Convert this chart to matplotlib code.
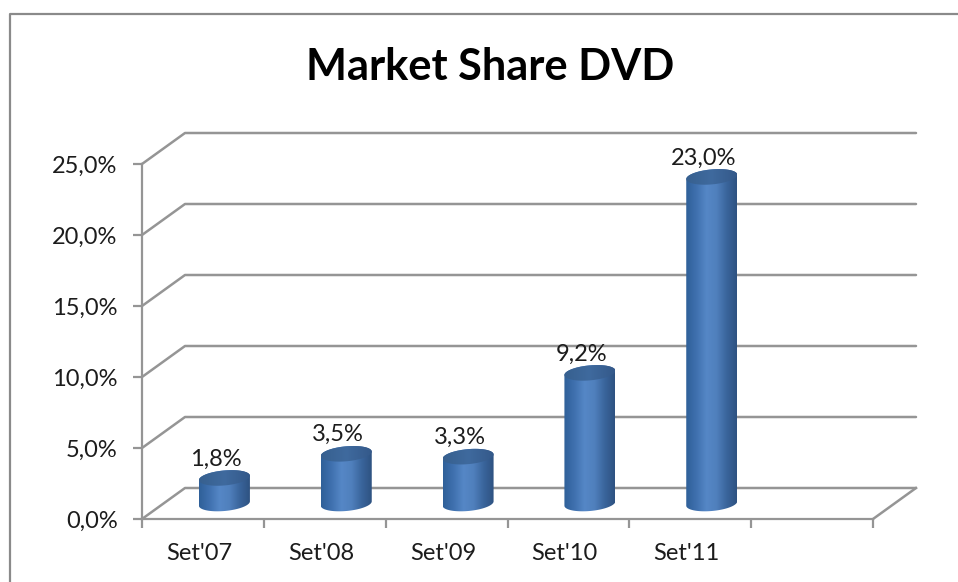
#!/usr/bin/env python3
import numpy as np
import matplotlib
matplotlib.use("Agg")
import matplotlib.pyplot as plt
from matplotlib.colors import LinearSegmentedColormap
from matplotlib.patches import Polygon
from matplotlib.transforms import IdentityTransform

plt.rcParams["font.family"] = ["Lato", "DejaVu Sans"]

W, H = 958, 582

categories = ["Set'07", "Set'08", "Set'09", "Set'10", "Set'11", ""]
values = [1.8, 3.5, 3.3, 9.2, 23.0]
y_ticks = [0, 5, 10, 15, 20, 25]

line_color = "#959595"
text_color = "#1c1c1c"
body_cmap = LinearSegmentedColormap.from_list(
    "body", ["#2f6099", "#3f70ae", "#5587c6", "#5080bd", "#3a659c", "#2e5281"]
)
cap_cmap = LinearSegmentedColormap.from_list("cap", ["#37608f", "#3f6a9e", "#34598a"])

# depth of the fake 3d box, in pixels
DEPTH_X, DEPTH_Y = 43, 31
BAR_W = 51
ELL_H = 7.5
TILT = 0.085


def ellipse_pts(cx, cy, t):
    # slightly tilted ellipse, points in pixels
    x = cx + BAR_W / 2 * np.cos(t)
    y = cy + ELL_H * np.sin(t) + TILT * BAR_W / 2 * np.cos(t)
    return np.column_stack([x, y])


fig = plt.figure(figsize=(W / 100, H / 100), dpi=100, facecolor="white")

# outer chart border, only left and top are inside the picture
fig.add_artist(
    plt.Line2D(
        [9.5 / W, 9.5 / W, 1], [0, 1 - 13.5 / H, 1 - 13.5 / H],
        transform=fig.transFigure, color="#8a8a8a", lw=1.6,
    )
)

# axes is the front plane of the box
ax = fig.add_axes([142 / W, 1 - 519 / H, (873 - 142) / W, (519 - 164) / H])
ax.set_xlim(0, 6)
ax.set_ylim(0, 25)
ax.patch.set_visible(False)

for s in ["top", "right"]:
    ax.spines[s].set_visible(False)
for s in ["left", "bottom"]:
    ax.spines[s].set_color(line_color)
    ax.spines[s].set_linewidth(1.6)

ax.set_yticks(y_ticks)
ax.set_yticklabels([f"{v:.1f}%".replace(".", ",") for v in y_ticks], fontsize=17, color=text_color)
ax.set_xticks(range(len(categories) + 1))
ax.set_xticklabels([])
ax.set_xticks(np.arange(len(categories)) + 0.47, minor=True)
ax.set_xticklabels(categories, minor=True, fontsize=17, color=text_color)
ax.tick_params(axis="both", which="major", length=6.5, width=1.6, color=line_color)
ax.tick_params(axis="x", which="minor", length=0, pad=17)
ax.tick_params(axis="y", pad=11)

to_px = ax.transData.transform
ident = IdentityTransform()

# walls: one bent line per gridline, floor closes at the right
for v in y_ticks:
    x0, y0 = to_px((0, v))
    x1, _ = to_px((len(categories), v))
    px = [x0, x0 + DEPTH_X, x1 + DEPTH_X]
    py = [y0, y0 + DEPTH_Y, y0 + DEPTH_Y]
    ax.plot(px, py, color=line_color, lw=1.8, transform=ident, clip_on=False, zorder=1,
            solid_capstyle="round")
x1, y1 = to_px((len(categories), 0))
ax.plot([x1, x1 + DEPTH_X], [y1, y1 + DEPTH_Y], color=line_color, lw=1.8, transform=ident,
        clip_on=False, zorder=1)

# cylinders
t_lo = np.linspace(np.pi, 2 * np.pi, 60)
t_all = np.linspace(0, 2 * np.pi, 120)
for i, v in enumerate(values):
    bx, by = to_px((i + 0.5, 0))
    tx, ty = to_px((i + 0.5, v))
    bx += DEPTH_X / 2
    tx += DEPTH_X / 2
    by += DEPTH_Y / 2
    ty += DEPTH_Y / 2

    low = ellipse_pts(bx, by, t_lo)
    top = ellipse_pts(tx, ty, np.linspace(0, np.pi, 60))
    body = Polygon(np.vstack([low, top]), transform=ident, fc="none", ec="none")
    ax.add_patch(body)

    grad = np.linspace(0, 1, 128).reshape(1, -1)
    # image extent goes through the data scale, clip does the shape
    (e0, e1), (e2, e3) = ax.transData.inverted().transform(
        [(bx - BAR_W / 2, by - 12), (bx + BAR_W / 2, ty + 12)]
    )
    im = ax.imshow(grad, cmap=body_cmap, extent=[e0, e2, e1, e3], aspect="auto",
                   zorder=3, interpolation="bilinear")
    im.set_clip_path(body)

    cap = Polygon(ellipse_pts(tx, ty, t_all), transform=ident, fc="none", ec="none")
    ax.add_patch(cap)
    im2 = ax.imshow(grad, cmap=cap_cmap, extent=[e0, e2, e1, e3], aspect="auto",
                    zorder=4, interpolation="bilinear")
    im2.set_clip_path(cap)

    ax.text(tx - 8.5, ty + 12.5, f"{v:.1f}%".replace(".", ","), transform=ident, ha="center",
            va="baseline", fontsize=17, color=text_color, zorder=6)

ax.set_xlim(0, 6)
ax.set_ylim(0, 25)

fig.text(490 / W, 1 - 67 / H, "Market Share DVD", ha="center", va="center",
         fontsize=31.2, fontweight="bold", color="black")

fig.savefig("out.png", dpi=100)
